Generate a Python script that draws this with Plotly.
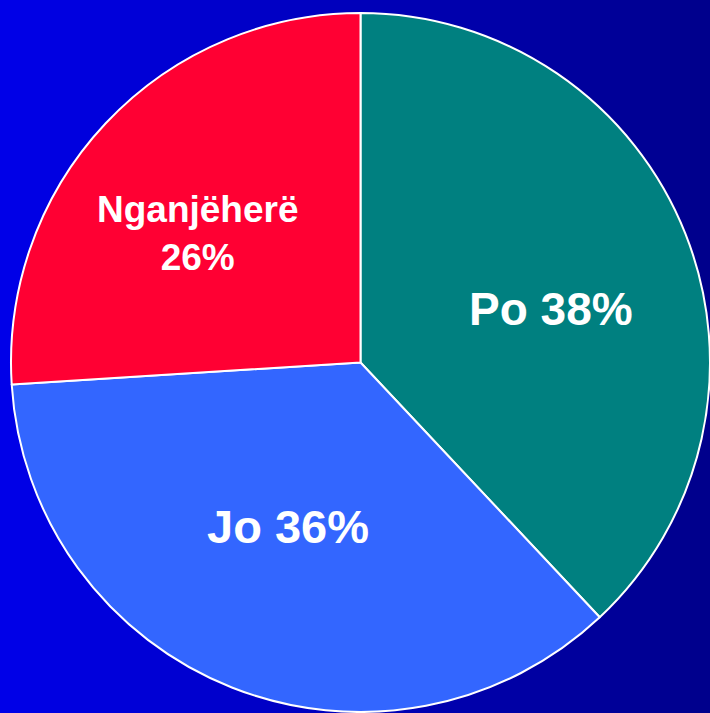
import plotly.graph_objects as go

labels = ["Po", "Jo", "Nganjëherë"]
values = [38, 36, 26]
colors = ["#008080", "#3366FF", "#FF0033"]
label_text = ["Po 38%", "Jo 36%", "Nganjëherë<br>26%"]
label_x = [0.776, 0.405, 0.279]
label_y = [0.566, 0.262, 0.673]
label_size = [46, 47, 37]

W, H = 710, 713

fig = go.Figure(go.Pie(
    labels=labels,
    values=values,
    marker=dict(colors=colors, line=dict(color="white", width=2)),
    sort=False,
    direction="clockwise",
    rotation=0,
    textinfo="none",
    hoverinfo="label+percent",
    showlegend=False,
    domain=dict(x=[11 / W, 1], y=[0, 1 - 12 / H]),
))

# horizontal gradient background
n = 71
c0 = (0, 0, 232)
c1 = (0, 0, 140)
shapes = []
for i in range(n):
    t = i / (n - 1)
    col = "rgb(%d,%d,%d)" % tuple(round(a + (b - a) * t) for a, b in zip(c0, c1))
    shapes.append(dict(type="rect", xref="paper", yref="paper",
                       x0=i / n, x1=(i + 1) / n + 0.002, y0=0, y1=1,
                       fillcolor=col, line=dict(width=0), layer="below"))

annotations = []
for t, x, y, s in zip(label_text, label_x, label_y, label_size):
    annotations.append(dict(text="<b>%s</b>" % t, x=x, y=y, xref="paper", yref="paper",
                            showarrow=False, xanchor="center", yanchor="middle",
                            font=dict(family="Liberation Sans, Arial", size=s, color="white")))

fig.update_layout(
    width=W, height=H,
    margin=dict(l=0, r=0, t=0, b=0),
    paper_bgcolor="rgb(0,0,190)",
    plot_bgcolor="rgba(0,0,0,0)",
    shapes=shapes,
    annotations=annotations,
)

fig.write_html("out.html",
               config={"displayModeBar": False},
               post_script="document.body.style.margin='0px';document.body.style.overflow='hidden';")
